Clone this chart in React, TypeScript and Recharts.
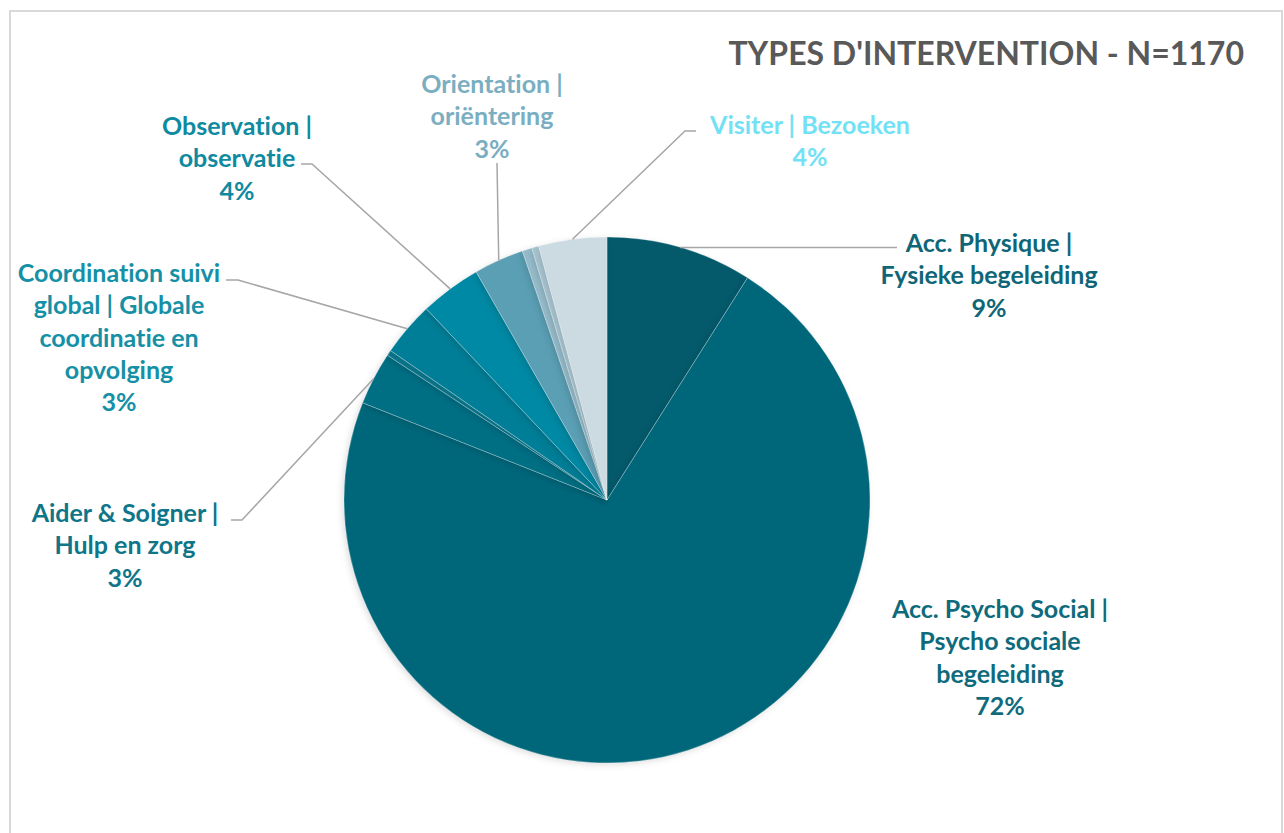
import React from 'react';
import { PieChart, Pie, Cell } from 'recharts';

// categories, clockwise from 12 o'clock (\n = line break in the label)
const categories = [
  'Acc. Physique |\nFysieke begeleiding',
  'Acc. Psycho Social |\nPsycho sociale\nbegeleiding',
  'Aider & Soigner |\nHulp en zorg',
  '',
  'Coordination suivi\nglobal | Globale\ncoordinatie en\nopvolging',
  'Observation |\nobservatie',
  'Orientation |\noriëntering',
  '',
  '',
  'Visiter | Bezoeken',
];
const counts = [105, 843, 38, 4, 39, 44, 36, 7, 5, 49];
const sliceColors = ['#045a6b', '#00677a', '#006f84', '#0a7a90', '#007e97', '#0089a4', '#5b9fb5', '#96bccb', '#a8c6d2', '#ccdbe2'];
const labelColors = ['#0f6677', '#0f6b7c', '#0f7589', '', '#1590a6', '#0f8aa0', '#7aaec0', '', '', '#73e1f5'];
const TITLE = "TYPES D'INTERVENTION - N=1170";

const data = categories.map((name, i) => ({ name, value: counts[i] }));

// label layout: text centre x, first line y, leader points (after the arc point)
const labelLayout: Record<number, { x: number; y: number; leader: [number, number][] | null }> = {
  0: { x: 989, y: 242, leader: [[897, 247.5]] },
  1: { x: 1000, y: 608, leader: null },
  2: { x: 125, y: 512, leader: [[242, 520], [231, 520]] },
  4: { x: 119, y: 272, leader: [[238, 280], [226, 280]] },
  5: { x: 237, y: 125, leader: [[312, 164], [301, 164]] },
  6: { x: 492, y: 83, leader: [[497, 163]] },
  9: { x: 810, y: 124, leader: [[685, 131], [696, 131]] },
};
const LINE_STEP = 32.3;
const RAD = Math.PI / 180;
const FONT = "Lato, 'Open Sans', sans-serif";

const renderLabel = (props: any) => {
  const { cx, cy, midAngle, outerRadius, percent, index } = props;
  const lay = labelLayout[index];
  if (!lay) return null;
  const ax = cx + outerRadius * Math.cos(-midAngle * RAD);
  const ay = cy + outerRadius * Math.sin(-midAngle * RAD);
  const lines = [...categories[index].split('\n'), `${Math.round(percent * 100)}%`];
  const pts = lay.leader ? [[ax, ay], ...lay.leader] : null;
  return (
    <g key={`lbl-${index}`}>
      {pts && (
        <polyline points={pts.map(p => p.join(',')).join(' ')} fill="none" stroke="#a6a6a6" strokeWidth={1.5} />
      )}
      <text x={lay.x} y={lay.y} textAnchor="middle" fill={labelColors[index]} fontSize={25} fontWeight={700} fontFamily={FONT}
        style={{ fontVariantLigatures: 'none' }}>
        {lines.map((l, i) => (
          <tspan key={i} x={lay.x} y={lay.y + i * LINE_STEP} dominantBaseline="central">{l}</tspan>
        ))}
      </text>
    </g>
  );
};

export default function App() {
  return (
    <div style={{ position: 'absolute', left: 0, top: 0, width: 1284, height: 833, background: '#fff', overflow: 'hidden' }}>
      <style>{`.recharts-pie-sector path { filter: drop-shadow(-2px 2px 3px rgba(0,0,0,0.12)); }`}</style>
      <div style={{ position: 'absolute', left: 9, top: 10, width: 1270, height: 840, border: '2px solid #d9d9d9' }} />
      <div style={{ position: 'absolute', left: 0, top: 0 }}>
        <PieChart width={1284} height={833} margin={{ top: 0, right: 0, bottom: 0, left: 0 }}>
          <text x={1244} y={52} textAnchor="end" dominantBaseline="central" fill="#595959" fontSize={32} fontWeight={700}
            fontFamily={FONT}>{TITLE}</text>
          <Pie data={data} dataKey="value" nameKey="name" cx={607} cy={500} outerRadius={263} startAngle={90} endAngle={-270}
            stroke="#ffffff" strokeWidth={0.6} strokeOpacity={0.45} label={renderLabel} labelLine={false} isAnimationActive={false}>
            {data.map((_, i) => (
              <Cell key={`c-${i}`} fill={sliceColors[i]} />
            ))}
          </Pie>
        </PieChart>
      </div>
    </div>
  );
}
